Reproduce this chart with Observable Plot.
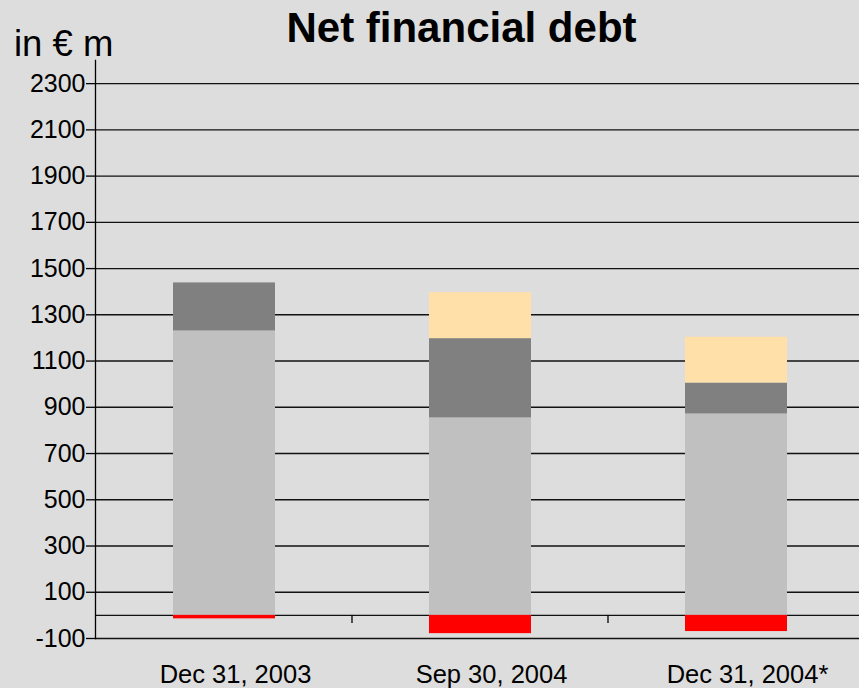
<!DOCTYPE html>
<html>
<head>
<meta charset="utf-8">
<script src="https://cdn.jsdelivr.net/npm/d3@7"></script>
<script src="https://cdn.jsdelivr.net/npm/@observablehq/plot@0.6"></script>
<style>
  html, body { margin: 0; padding: 0; background: #dddddd; overflow: hidden; width: 859px; height: 688px; }
  #header { position: relative; height: 60px; font-family: "Liberation Sans", Arial, sans-serif; color: #000; }
  #title { position: absolute; left: 0; width: 923px; top: 7px; text-align: center; font-weight: bold; font-size: 42px; line-height: 42px; white-space: nowrap; }
  #unit { position: absolute; left: 14px; top: 26px; font-size: 36.5px; line-height: 36.5px; white-space: nowrap; }
</style>
</head>
<body>
<div id="header">
  <div id="title">Net financial debt</div>
  <div id="unit">in € m</div>
</div>
<div id="chart"></div>
<script>
const categories = ["Dec 31, 2003", "Sep 30, 2004", "Dec 31, 2004*"];
const seriesNames = ["Segment 1", "Segment 2", "Segment 3", "Segment 4"];
const seriesColors = ["#c0c0c0", "#808080", "#ffe0a8", "#ff0000"];
const segment1 = [1230, 854, 871];
const segment2 = [208, 343, 134];
const segment3 = [0, 199, 198];
const segment4 = [-15, -79, -70];
const yTicks = [-100, 100, 300, 500, 700, 900, 1100, 1300, 1500, 1700, 1900, 2100, 2300];

const seriesValues = [segment1, segment2, segment3, segment4];
const table = [];
seriesNames.forEach((s, si) => {
  categories.forEach((c, ci) => {
    table.push({category: c, series: s, value: seriesValues[si][ci]});
  });
});

function boundaryTicks(index, scales, values, dimensions) {
  const x = scales.x, y = scales.y;
  let bw = 0;
  if (x && typeof x.bandwidth === "function") bw = x.bandwidth();
  else if (scales.scales && scales.scales.x && scales.scales.x.bandwidth != null) bw = scales.scales.x.bandwidth;
  const ns = "http://www.w3.org/2000/svg";
  const g = document.createElementNS(ns, "g");
  const y0 = y(0);
  for (let i = 0; i < categories.length - 1; i++) {
    const xb = (x(categories[i]) + bw + x(categories[i + 1])) / 2;
    const line = document.createElementNS(ns, "line");
    line.setAttribute("x1", xb);
    line.setAttribute("x2", xb);
    line.setAttribute("y1", y0);
    line.setAttribute("y2", y0 + 8);
    line.setAttribute("stroke", "#000");
    line.setAttribute("stroke-width", 1.3);
    g.appendChild(line);
  }
  return g;
}

const chart = Plot.plot({
  width: 865,
  height: 628,
  marginTop: 0,
  marginBottom: 50,
  marginLeft: 95,
  marginRight: 0,
  style: {
    background: "#dddddd",
    fontFamily: "'Liberation Sans', Arial, sans-serif",
    fontSize: "25px",
    color: "#000",
    overflow: "visible",
    maxWidth: "none"
  },
  x: {domain: categories, range: [95, 865], paddingInner: 0.6, paddingOuter: 0.3, label: null},
  y: {domain: [-100, 2400], label: null},
  color: {domain: seriesNames, range: seriesColors},
  marks: [
    Plot.ruleY(yTicks, {stroke: "#111", strokeWidth: 1.4}),
    Plot.ruleY([0], {stroke: "#111", strokeWidth: 1.2}),
    Plot.barY(table, {x: "category", y: "value", z: "series", fill: "series", order: seriesNames}),
    boundaryTicks,
    Plot.frame({anchor: "left", stroke: "#000", strokeWidth: 1.3}),
    Plot.axisY(yTicks, {tickSize: 9, tickPadding: 1, stroke: "#000", strokeWidth: 1.3, fontSize: 25, label: null, tickFormat: d => String(d)}),
    Plot.axisX({tickSize: 0, tickPadding: 26, dx: 11, fontSize: 25.5, label: null})
  ]
});
document.getElementById("chart").appendChild(chart);
</script>
</body>
</html>
